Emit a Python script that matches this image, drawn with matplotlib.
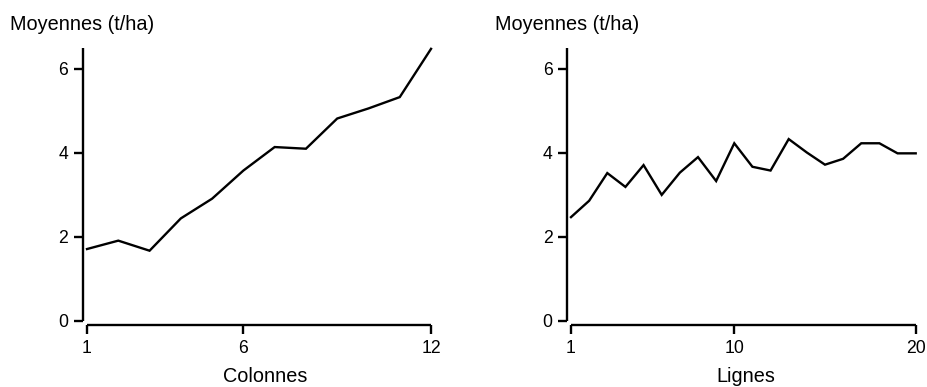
import matplotlib
matplotlib.use('Agg')
import matplotlib.pyplot as plt

# Moyennes par colonne et par ligne (t/ha)
colonnes = list(range(1, 13))
moy_colonnes = [1.71, 1.91, 1.67, 2.44, 2.91, 3.58, 4.14, 4.10, 4.82, 5.06, 5.33, 6.48]
lignes = list(range(1, 21))
moy_lignes = [2.47, 2.86, 3.52, 3.19, 3.71, 3.00, 3.53, 3.90, 3.33, 4.23,
              3.67, 3.58, 4.33, 4.01, 3.72, 3.86, 4.23, 4.23, 3.99, 3.99]
yticks = [0, 2, 4, 6]
xticks_col = [1, 6, 12]
xticks_lig = [1, 10, 20]

plt.rcParams['font.family'] = ['Liberation Sans', 'DejaVu Sans']

W, H = 927, 387
fig = plt.figure(figsize=(W / 100, H / 100), dpi=100)

panels = [
    # (left px, right px, x, y, xticks, xlim, xlabel, xlabel center px, title px)
    (82.7, 432.6, colonnes, moy_colonnes, xticks_col, (0.862, 12.05), 'Colonnes', 265, 10),
    (567.3, 916.6, lignes, moy_lignes, xticks_lig, (0.796, 20.05), 'Lignes', 746, 495),
]

for left, right, x, y, xt, xl, lab, labx, titx in panels:
    ax = fig.add_axes([left / W, (H - 325) / H, (right - left) / W, (325 - 45.9) / H])
    ax.plot(x, y, color='black', lw=1.7, clip_on=False, solid_joinstyle='miter')
    ax.set_xlim(*xl)
    ax.set_ylim(-0.1, 6.55)
    ax.set_xticks(xt)
    ax.set_yticks(yticks)
    for s in ['top', 'right']:
        ax.spines[s].set_visible(False)
    ax.spines['left'].set_bounds(0, 6.5)
    ax.spines['bottom'].set_bounds(xt[0], xt[-1])
    for s in ['left', 'bottom']:
        ax.spines[s].set_linewidth(1.7)
        ax.spines[s].set_capstyle('butt')
    ax.tick_params(length=6.5, width=1.7, labelsize=12.7, pad=4, colors='black')
    ax.patch.set_visible(False)
    fig.text(titx / W, 1 - 30 / H, 'Moyennes (t/ha)', fontsize=14.3, va='baseline', ha='left')
    fig.text(labx / W, 1 - 381.5 / H, lab, fontsize=14.3, va='baseline', ha='center')

fig.savefig('out.png', dpi=100)
